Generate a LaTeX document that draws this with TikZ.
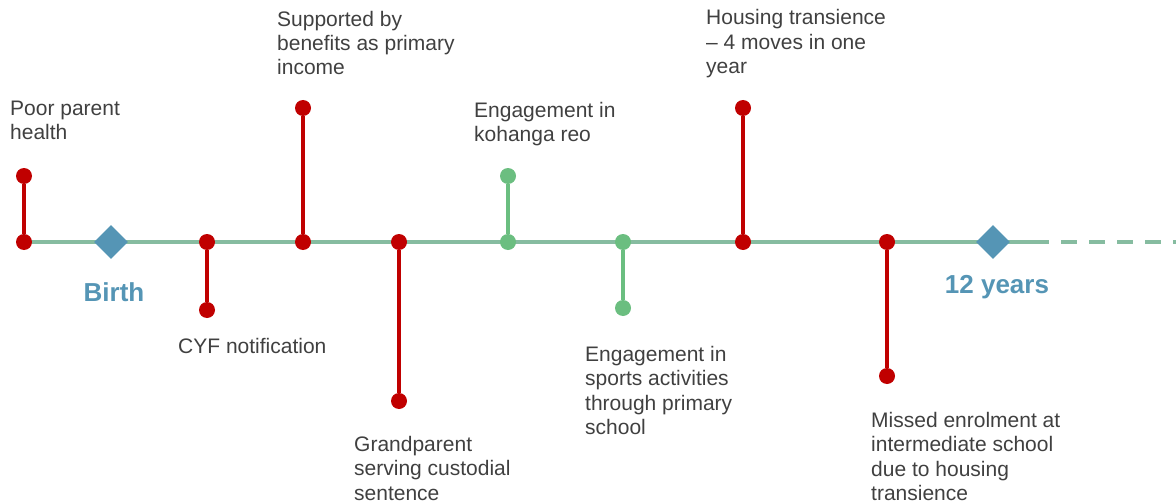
\documentclass[tikz,border=0pt]{standalone}
\usepackage{fontspec}
\setmainfont{Liberation Sans}
\usetikzlibrary{shapes.geometric}
\definecolor{lineGreen}{RGB}{134,188,160}
\definecolor{evGreen}{RGB}{107,190,128}
\definecolor{evRed}{RGB}{192,0,0}
\definecolor{msBlue}{RGB}{85,149,181}
\definecolor{txtGray}{RGB}{64,64,64}
\begin{document}
\begin{tikzpicture}[x=1pt, y=-1pt,
  reddot/.style={circle, fill=evRed, inner sep=0, minimum size=16pt},
  greendot/.style={circle, fill=evGreen, inner sep=0, minimum size=16pt},
  redstem/.style={evRed, line width=4pt},
  greenstem/.style={evGreen, line width=4pt},
  milestone/.style={diamond, fill=msBlue, inner sep=0, minimum size=34pt},
  event/.style={anchor=base west, align=left, inner sep=0, text=txtGray, font=\fontsize{21}{24.5}\selectfont},
  age/.style={anchor=base, inner sep=0, text=msBlue, font=\fontsize{26}{30}\selectfont\bfseries}]
\useasboundingbox (0,0) rectangle (1176,503);
\coordinate (start) at (24,242);
\coordinate (solidend) at (1033,242);
\coordinate (lineend) at (1176,242);
\draw[lineGreen, line width=4.5pt] (start) -- (solidend);
\draw[lineGreen, line width=4.5pt, dash pattern=on 16pt off 12pt] (solidend) -- (lineend);
\node[milestone] (birth) at (111,242) {};
\node[milestone] (twelve) at (993,242) {};
\node[age] (birthlbl) at (114,301) {Birth};
\node[age] (twelvelbl) at (997,293) {12 years};
\node[reddot] (health0) at (24,242) {};
\node[reddot] (health1) at (24,176) {};
\draw[redstem] (health0) -- (health1);
\node[event] (healthlbl) at (10,139.5) {Poor parent\\health};
\node[reddot] (cyf0) at (207,242) {};
\node[reddot] (cyf1) at (207,310) {};
\draw[redstem] (cyf0) -- (cyf1);
\node[event] (cyflbl) at (178,353) {CYF notification};
\node[reddot] (benefit0) at (303,242) {};
\node[reddot] (benefit1) at (303,108) {};
\draw[redstem] (benefit0) -- (benefit1);
\node[event] (benefitlbl) at (277,75) {Supported by\\benefits as primary\\income};
\node[reddot] (custody0) at (399,242) {};
\node[reddot] (custody1) at (399,401) {};
\draw[redstem] (custody0) -- (custody1);
\node[event] (custodylbl) at (354,500) {Grandparent\\serving custodial\\sentence};
\node[greendot] (kohanga0) at (508,242) {};
\node[greendot] (kohanga1) at (508,176) {};
\draw[greenstem] (kohanga0) -- (kohanga1);
\node[event] (kohangalbl) at (474,141.5) {Engagement in\\kohanga reo};
\node[greendot] (sports0) at (623,242) {};
\node[greendot] (sports1) at (623,308) {};
\draw[greenstem] (sports0) -- (sports1);
\node[event] (sportslbl) at (585,434.5) {Engagement in\\sports activities\\through primary\\school};
\node[reddot] (housing0) at (743,242) {};
\node[reddot] (housing1) at (743,108) {};
\draw[redstem] (housing0) -- (housing1);
\node[event] (housinglbl) at (706,74) {Housing transience\\– 4 moves in one\\year};
\node[reddot] (enrol0) at (887,242) {};
\node[reddot] (enrol1) at (887,376) {};
\draw[redstem] (enrol0) -- (enrol1);
\node[event] (enrollbl) at (871,500.5) {Missed enrolment at\\intermediate school\\due to housing\\transience};
\end{tikzpicture}
\end{document}
